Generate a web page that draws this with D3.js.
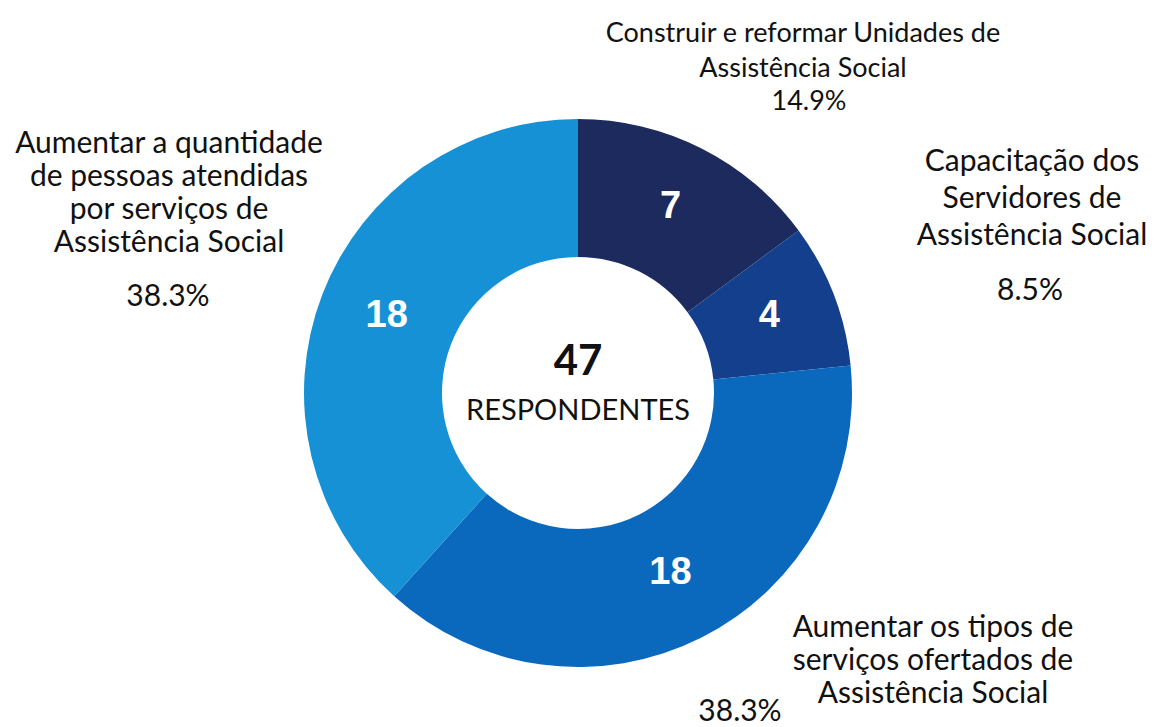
<!DOCTYPE html>
<html lang="pt">
<head>
<meta charset="utf-8">
<title>47 respondentes</title>
<script src="https://cdn.jsdelivr.net/npm/d3@7"></script>
<style>
  body { margin: 0; background: #fff; }
  text { font-family: Lato, "Open Sans", sans-serif; fill: #111; }
</style>
</head>
<body>
<script>
// data
var categories = [
  "Construir e reformar Unidades de|Assistência Social",
  "Capacitação dos|Servidores de|Assistência Social",
  "Aumentar os tipos de|serviços ofertados de|Assistência Social",
  "Aumentar a quantidade|de pessoas atendidas|por serviços de|Assistência Social"
];
var counts = [7, 4, 18, 18];
var colors = ["#1d2a5e", "#143f8d", "#0b69bd", "#1791d5"];
var totalLabel = "RESPONDENTES";

var w = 1161, h = 727;
var cx = 578, cy = 393;
var outerR = 274, innerR = 136;

// where each category's text block sits: x centre, first baseline, line gap, pct baseline, font size
var layout = [
  {x: 803, y: 42, gap: 35, px: 809, py: 110, size: 27},
  {x: 1032, y: 171, gap: 37, px: 1030, py: 300, size: 30},
  {x: 933, y: 637, gap: 33, px: 740, py: 721, size: 30},
  {x: 169, y: 153, gap: 33, px: 168, py: 306, size: 30}
];

var total = d3.sum(counts);
var pct = d3.format(".1%");

var svg = d3.select("body").append("svg")
  .attr("width", w)
  .attr("height", h);

var pie = d3.pie().sort(null).value(function(d) { return d; });
var arc = d3.arc().innerRadius(innerR).outerRadius(outerR);

var g = svg.append("g").attr("transform", "translate(" + cx + "," + cy + ")");
var arcs = pie(counts);

g.selectAll("path")
  .data(arcs)
  .enter()
  .append("path")
  .attr("d", arc)
  .style("fill", function(d, i) { return colors[i]; });

// numbers inside the ring
g.selectAll("text.num")
  .data(arcs)
  .enter()
  .append("text")
  .attr("class", "num")
  .attr("transform", function(d) { return "translate(" + arc.centroid(d) + ")"; })
  .attr("dy", "0.2em")
  .attr("text-anchor", "middle")
  .style("font-family", "'Liberation Sans', Arial, sans-serif")
  .style("font-weight", "bold")
  .style("font-size", "38px")
  .style("fill", "#fff")
  .text(function(d) { return d.data; });

// centre
g.append("text")
  .attr("y", -18)
  .attr("text-anchor", "middle")
  .style("font-weight", "bold")
  .style("font-size", "42px")
  .text(total);

g.append("text")
  .attr("y", 27)
  .attr("text-anchor", "middle")
  .style("font-size", "29px")
  .text(totalLabel);

// outside labels
categories.forEach(function(c, i) {
  var L = layout[i];
  var t = svg.append("text")
    .attr("text-anchor", "middle")
    .style("font-size", L.size + "px");
  c.split("|").forEach(function(line, j) {
    t.append("tspan")
      .attr("x", L.x)
      .attr("y", L.y + j * L.gap)
      .text(line);
  });
  svg.append("text")
    .attr("x", L.px)
    .attr("y", L.py)
    .attr("text-anchor", "middle")
    .style("font-size", L.size + "px")
    .text(pct(counts[i] / total));
});
</script>
</body>
</html>
